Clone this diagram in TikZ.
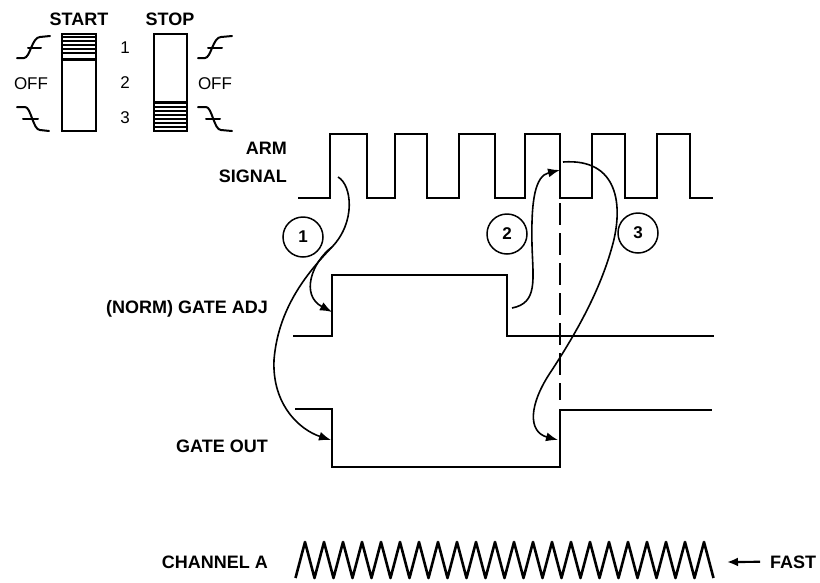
\documentclass[tikz,border=0pt]{standalone}
\usepackage{fontspec}
\setmainfont{Liberation Sans}
\usetikzlibrary{arrows.meta}
\begin{document}
\begin{tikzpicture}[x=1pt,y=-1pt,
 wave/.style={line width=2.6pt},
 conn/.style={line width=1.6pt,-{Latex[length=12pt,width=9pt]}},
 lbl/.style={inner sep=0pt, font=\bfseries\fontsize{18}{18}\selectfont},
 plainlbl/.style={inner sep=0pt, font=\fontsize{17}{17}\selectfont},
 num/.style={circle,draw,line width=1.5pt,minimum size=40pt,inner sep=0pt,font=\bfseries\fontsize{17}{17}\selectfont},
 swbox/.style={line width=2.6pt},
 hatch/.style={line width=2.4pt},
 edgesym/.style={line width=2pt, line cap=round, line join=round},
 fastarrow/.style={line width=2.2pt,-{Latex[length=11pt,width=9pt]}}]
\useasboundingbox (0,0) rectangle (820,582);

% ---- switches ----
\node[lbl, anchor=base] (start) at (79,25) {START};
\node[lbl, anchor=base] (stop) at (170,25) {STOP};
\draw[swbox] (62,34) rectangle (96,131);
\foreach \y in {37,41,45,49,53} \draw[hatch] (62,\y) -- (96,\y);
\draw[line width=3pt] (62,59) -- (96,59);
\draw[swbox] (154,34) rectangle (187,131);
\foreach \y in {107,111,115,119,123,127} \draw[hatch] (154,\y) -- (187,\y);
\draw[line width=3pt] (154,102) -- (187,102);
\node[plainlbl, anchor=base] (n1) at (125,53) {1};
\node[plainlbl, anchor=base] (n2) at (125,88) {2};
\node[plainlbl, anchor=base] (n3) at (125,123) {3};
\node[plainlbl, anchor=base] (offl) at (31,89) {OFF};
\node[plainlbl, anchor=base] (offr) at (215,89) {OFF};
% edge symbols left
\draw[edgesym] (17,58) -- (24,58) .. controls (30,58) and (32,37) .. (40,37) -- (50,36);
\draw[edgesym] (28,48) -- (41,48);
\draw[edgesym] (17,107) -- (25,107) .. controls (31,107) and (33,130) .. (40,130) -- (49,131);
\draw[edgesym] (23,119) -- (38,119);
% edge symbols right
\draw[edgesym] (198,58) -- (205,58) .. controls (211,58) and (213,37) .. (221,37) -- (232,36);
\draw[edgesym] (208,48) -- (222,48);
\draw[edgesym] (198,107) -- (206,107) .. controls (212,107) and (214,130) .. (221,130) -- (232,131);
\draw[edgesym] (206,119) -- (220,119);

% ---- labels ----
\node[lbl, anchor=base east] (arm) at (287,154) {ARM};
\node[lbl, anchor=base east] (sig) at (287,182) {SIGNAL};
\node[lbl, anchor=base east] (adj) at (268,313) {(NORM) GATE ADJ};
\node[lbl, anchor=base east] (gout) at (268,452) {GATE OUT};
\node[lbl, anchor=base east] (cha) at (268,568) {CHANNEL A};
\node[lbl, anchor=base west] (fast) at (770,568) {FAST};

% ---- arm signal ----
\draw[wave] (298,198) -- (330,198) -- (330,134) -- (367,134) -- (367,198)
  -- (395,198) -- (395,134) -- (427,134) -- (427,198)
  -- (459,198) -- (459,134) -- (495,134) -- (495,198)
  -- (525,198) -- (525,134) -- (560,134) -- (560,198)
  -- (592,198) -- (592,134) -- (625,134) -- (625,198)
  -- (657,198) -- (657,134) -- (690,134) -- (690,198) -- (713,198);

% ---- gate adj ----
\draw[wave] (293,336) -- (332,336) -- (332,275) -- (507,275) -- (507,336) -- (714,336);
% ---- gate out ----
\draw[wave] (295,409) -- (332,409) -- (332,467) -- (560,467) -- (560,410) -- (712,410);

% ---- dashed marker ----
\draw[line width=2pt, dash pattern=on 22pt off 8pt] (560,203) -- (560,400);

% ---- circled numbers ----
\node[num] (c1) at (303,237) {1};
\node[num] (c2) at (507,234) {2};
\node[num] (c3) at (638,233) {3};

% ---- cause/effect curves ----
\coordinate (a1s) at (338,177);
\coordinate (a1m) at (332,247);
\coordinate (adjR) at (332,312);
\coordinate (outF) at (331,440);
\draw[line width=1.6pt] (a1s) .. controls (352,185) and (356,222) .. (a1m);
\draw[conn] (a1m) .. controls (312,262) and (300,295) .. (adjR);
\draw[conn] (a1m) .. controls (305,275) and (278,310) .. (274,360) .. controls (272,405) and (300,430) .. (outF);

\coordinate (a2s) at (512,308);
\coordinate (armF) at (560,170);
\draw[conn] (a2s) .. controls (538,303) and (533,280) .. (532,245) .. controls (531,200) and (535,176) .. (armF);

\coordinate (a3s) at (563,162);
\coordinate (outR) at (558,440);
\draw[conn] (a3s) .. controls (618,158) and (624,205) .. (612,247) .. controls (600,290) and (578,330) .. (552,370) .. controls (528,405) and (528,432) .. (outR);

% ---- channel A zigzag ----
\draw[wave, line join=round] (295.5,578) \foreach \k in {0,...,21} { -- ({305+19*\k},542) -- ({314.5+19*\k},578) };
\coordinate (fh) at (727,562);
\draw[fastarrow] ([xshift=-10pt]fast.west) -- (fh);
\end{tikzpicture}
\end{document}
